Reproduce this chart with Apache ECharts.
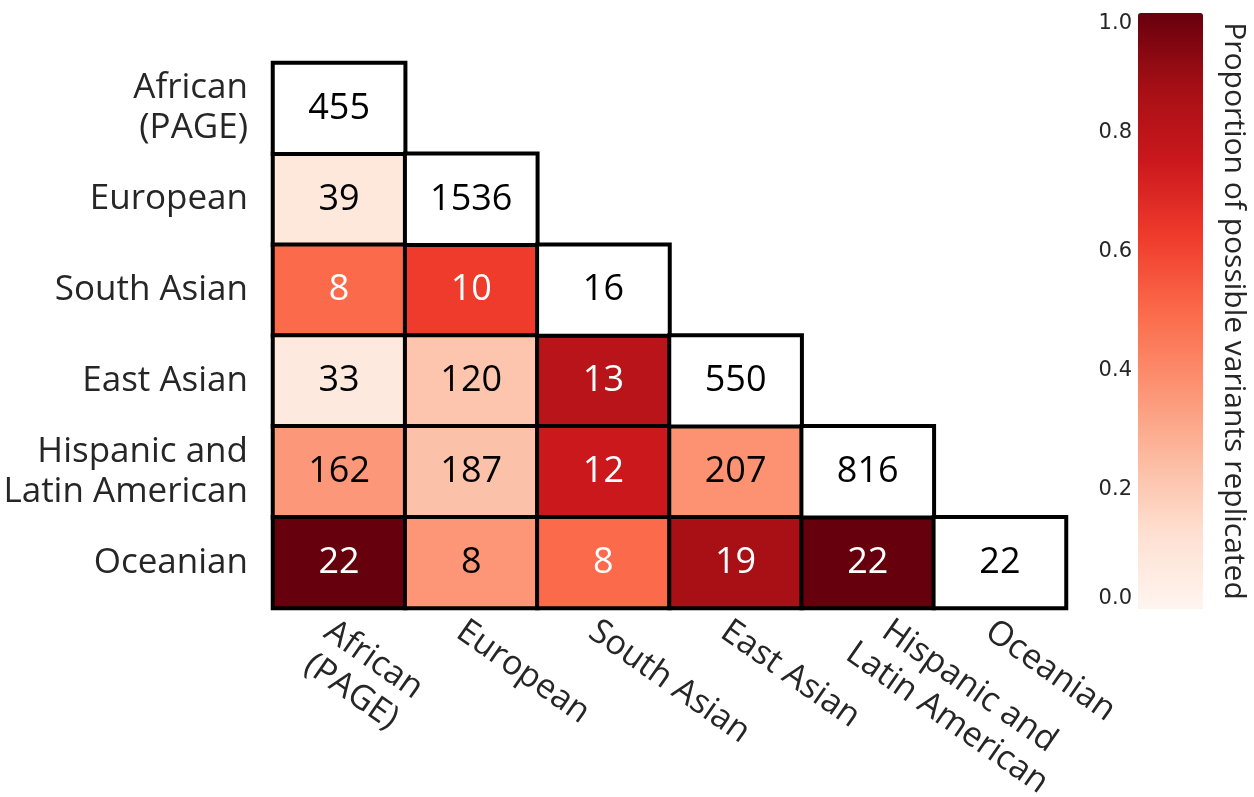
<!DOCTYPE html>
<html>
<head>
<meta charset="utf-8">
<script src="https://cdn.jsdelivr.net/npm/echarts@6/dist/echarts.min.js"></script>
<style>
  html, body { margin: 0; padding: 0; background: #fff; }
  #chart { width: 1254px; height: 797px; }
</style>
</head>
<body>
<div id="chart"></div>
<script>
// Population groups (rows top-to-bottom, columns left-to-right)
const groups = ['African\n(PAGE)', 'European', 'South Asian', 'East Asian', 'Hispanic and\nLatin American', 'Oceanian'];

// Variant counts, lower triangle (diagonal = variants in that group)
const counts = [
  [455],
  [39, 1536],
  [8, 10, 16],
  [33, 120, 13, 550],
  [162, 187, 12, 207, 816],
  [22, 8, 8, 19, 22, 22]
];

// Proportion of possible variants replicated, off-diagonal cells
const proportions = [
  [],
  [0.086],
  [0.50, 0.625],
  [0.073, 0.218, 0.8125],
  [0.356, 0.229, 0.75, 0.376],
  [1.0, 0.364, 0.50, 0.864, 1.0]
];

// Colour bar ticks
const colorbarTicks = [0, 0.2, 0.4, 0.6, 0.8, 1.0];

// Sequential reds palette
const reds = ['#fff5f0', '#fee0d2', '#fcbba1', '#fc9272', '#fb6a4a', '#ef3b2c', '#cb181d', '#a50f15', '#67000d'];

const FONT = 'Open Sans';
const TEXT = '#262626';

const offDiag = [];
const diag = [];
counts.forEach((row, r) => {
  row.forEach((n, c) => {
    if (r === c) {
      diag.push({ value: [c, r, n] });
    } else {
      const p = proportions[r][c];
      offDiag.push({
        value: [c, r, p, n],
        label: { color: p >= 0.45 ? '#ffffff' : '#000000' }
      });
    }
  });
});

// Multi-line tick labels: each line centred within the label block
const centredLines = v => v.split('\n').map(s => '{c|' + s + '}').join('\n');

// Bottom-axis categories; the long two-line label is nudged up along its slant
const xCategories = groups.map((g, i) =>
  i === 4 ? { value: g, textStyle: { verticalAlign: 'middle', padding: [44, 0, 0, 7] } } : g
);

const chart = echarts.init(document.getElementById('chart'), null, { renderer: 'canvas' });

chart.setOption({
  animation: false,
  backgroundColor: '#ffffff',
  grid: [
    { left: 273, top: 63, width: 793, height: 545, outerBoundsMode: 'none', containLabel: false },
    { left: 1138, top: 13, width: 65, height: 596, outerBoundsMode: 'none', containLabel: false }
  ],
  xAxis: [
    {
      type: 'category',
      gridIndex: 0,
      data: xCategories,
      axisLine: { show: true, lineStyle: { color: '#000', width: 4 } },
      axisTick: { show: false },
      splitLine: { show: false },
      axisLabel: {
        rotate: -35,
        margin: 4,
        verticalAlign: 'top',
        interval: 0,
        formatter: centredLines,
        rich: {
          c: { align: 'center', fontFamily: FONT, fontSize: 34, lineHeight: 39, color: TEXT }
        }
      }
    },
    { type: 'value', gridIndex: 1, show: false, min: 0, max: 1 }
  ],
  yAxis: [
    {
      type: 'category',
      gridIndex: 0,
      data: groups,
      inverse: true,
      axisLine: { show: true, lineStyle: { color: '#000', width: 4 } },
      axisTick: { show: false },
      splitLine: { show: false },
      axisLabel: {
        margin: 25,
        fontFamily: FONT,
        fontSize: 35,
        lineHeight: 40,
        color: TEXT,
        align: 'right',
        interval: 0
      }
    },
    {
      type: 'value',
      gridIndex: 1,
      min: colorbarTicks[0],
      max: colorbarTicks[colorbarTicks.length - 1],
      interval: 0.2,
      position: 'left',
      axisLine: { show: false },
      axisTick: { show: false },
      splitLine: { show: false },
      axisLabel: {
        margin: 6,
        fontFamily: 'DejaVu Sans',
        fontSize: 21,
        color: TEXT,
        formatter: v => v.toFixed(1),
        verticalAlignMinLabel: 'bottom',
        verticalAlignMaxLabel: 'top'
      }
    },
    {
      type: 'value',
      gridIndex: 1,
      min: 0,
      max: 1,
      position: 'right',
      axisLine: { show: false },
      axisTick: { show: false },
      axisLabel: { show: false },
      splitLine: { show: false },
      name: 'Proportion of possible variants replicated',
      nameLocation: 'middle',
      nameRotate: -90,
      nameGap: 16,
      nameTextStyle: { fontFamily: FONT, fontSize: 30, color: TEXT }
    }
  ],
  visualMap: {
    type: 'continuous',
    seriesIndex: 0,
    dimension: 2,
    min: 0,
    max: 1,
    calculable: false,
    hoverLink: false,
    realtime: false,
    orient: 'vertical',
    left: 1138,
    top: 13,
    padding: 0,
    itemWidth: 65,
    itemHeight: 596,
    text: null,
    showLabel: false,
    inRange: { color: reds }
  },
  series: [
    {
      type: 'heatmap',
      xAxisIndex: 0,
      yAxisIndex: 0,
      data: offDiag,
      itemStyle: { borderColor: '#000', borderWidth: 4 },
      label: {
        show: true,
        fontFamily: FONT,
        fontSize: 36,
        formatter: p => String(p.data.value[3])
      },
      emphasis: { disabled: true }
    },
    {
      type: 'heatmap',
      xAxisIndex: 0,
      yAxisIndex: 0,
      data: diag,
      itemStyle: { color: '#ffffff', borderColor: '#000', borderWidth: 4 },
      label: {
        show: true,
        fontFamily: FONT,
        fontSize: 36,
        color: '#000',
        formatter: p => String(p.data.value[2])
      },
      emphasis: { disabled: true }
    }
  ]
});
</script>
</body>
</html>
